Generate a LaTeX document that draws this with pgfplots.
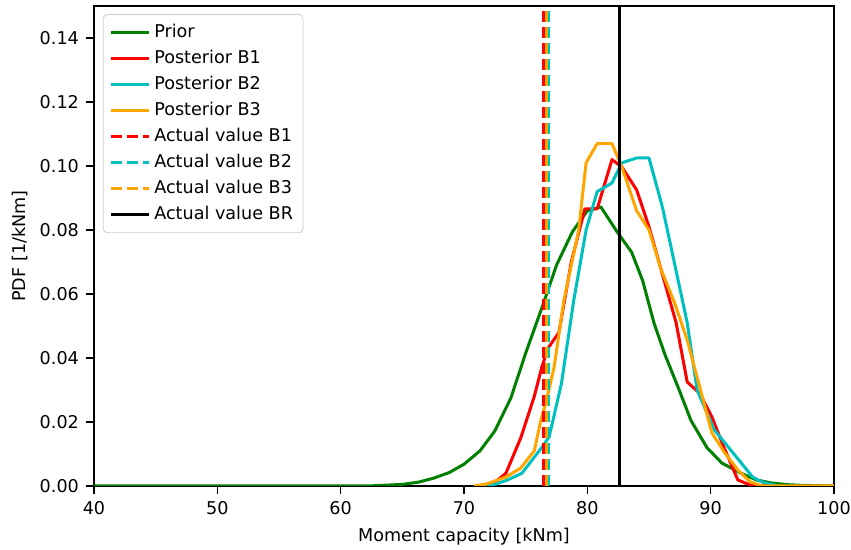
\documentclass[border=0pt]{standalone}
\usepackage{pgfplots}
\pgfplotsset{compat=1.18}
\usepackage{fontspec}
\setmainfont{DejaVu Sans}
\definecolor{mgreen}{rgb}{0,0.5,0}
\definecolor{mred}{rgb}{1,0,0}
\definecolor{mcyan}{rgb}{0,0.75,0.75}
\definecolor{morange}{rgb}{1,0.647,0}
\begin{document}
\begin{tikzpicture}
\begin{axis}[
  scale only axis,
  width=370pt, height=240pt,
  xmin=40, xmax=100, ymin=0, ymax=0.15,
  xtick={40,50,...,100},
  ytick={0,0.02,...,0.14},
  yticklabel style={/pgf/number format/.cd, fixed, fixed zerofill, precision=2},
  /pgf/number format/assume math mode=true,
  tick label style={font=\fontsize{8.8}{10.5}\selectfont},
  label style={font=\fontsize{8.8}{10.5}\selectfont},
  tick align=outside, tick pos=left,
  major tick length=4pt,
  axis line style={line width=0.8pt},
  every tick/.style={black, line width=0.8pt},
  xlabel={Moment capacity [kNm]},
  ylabel={PDF [1/kNm]},
  xlabel style={yshift=0pt},
  ylabel style={yshift=-1pt},
  legend cell align=left,
  legend style={at={(0.012,0.983)}, anchor=north west, draw=black!20, rounded corners=2pt,
    font=\fontsize{8.8}{10.5}\selectfont, row sep=0.8pt, inner sep=3pt},
  legend image code/.code={\draw[#1] (0pt,0pt) -- (19pt,0pt);},
  every axis plot/.append style={line width=1.5pt, line join=round},
]
\addplot[mgreen] coordinates {
(40,0) (50,0) (60,0) (62.5,0.00005) (65,0.0005) (66.3,0.0012) (67.5,0.0024) (68.8,0.0042)
(70,0.0068) (71.3,0.0110) (72.5,0.0172) (73.8,0.0275) (75,0.0415) (76.3,0.0555)
(77.5,0.0690) (78.8,0.0795) (80,0.0860) (81.1,0.0872) (82.4,0.0795) (83.6,0.0730)
(84.5,0.0640) (85.4,0.0510) (86.3,0.0410) (87.5,0.0295) (88.4,0.0205) (89.7,0.0120)
(90.9,0.0072) (92.4,0.0041) (93.7,0.0019) (95,0.0009) (96.3,0.0004) (97.5,0.0002) (100,0)
};
\addlegendentry{Prior}
\addplot[mred] coordinates {
(71.5,0) (72.3,0.0005) (73.4,0.004) (74.6,0.0150) (75.7,0.0280) (76.3,0.0370) (76.8,0.0430)
(77.7,0.0480) (78.7,0.0700) (79.8,0.0866) (80.8,0.0866) (82.0,0.1020) (82.8,0.0997)
(84.0,0.0925) (85.0,0.0810) (86.1,0.0660) (87.2,0.0510) (88.1,0.0325) (89.1,0.0290)
(90.1,0.0216) (91.0,0.0128) (92.2,0.0019) (93.2,0.0003) (95,0)
};
\addlegendentry{Posterior B1}
\addplot[mcyan] coordinates {
(71.5,0) (72.6,0.0006) (73.6,0.0020) (74.7,0.0040) (75.5,0.0080) (76.3,0.0120) (76.9,0.0153)
(77.9,0.0320) (78.9,0.0580) (79.9,0.0800) (80.8,0.0920) (82.0,0.0947) (82.8,0.1010)
(84.0,0.1025) (85.0,0.1025) (86.1,0.0870) (88.1,0.0510) (88.9,0.0300) (90.3,0.0175)
(92.1,0.0090) (93.4,0.0028) (94.2,0.0012) (95.5,0)
};
\addlegendentry{Posterior B2}
\addplot[morange] coordinates {
(70.8,0) (71.8,0.0006) (73.4,0.0028) (74.6,0.0056) (75.7,0.0110) (76.2,0.0200) (76.7,0.0270)
(77.3,0.0370) (78.1,0.0580) (79.3,0.0800) (79.9,0.1010) (80.8,0.1070) (82.0,0.1070)
(82.8,0.0997) (84.0,0.0860) (85.0,0.0800) (86.0,0.0675) (87.1,0.0570) (88.1,0.0456)
(90.1,0.0166) (91.1,0.0106) (92.2,0.0050) (93.2,0.0013) (94.2,0) (100,0)
};
\addlegendentry{Posterior B3}
\addplot[mred, dash pattern=on 5.5pt off 2.5pt] coordinates {(76.45,0) (76.45,0.15)};
\addlegendentry{Actual value B1}
\addplot[mcyan, dash pattern=on 5.5pt off 2.5pt] coordinates {(76.85,0) (76.85,0.15)};
\addlegendentry{Actual value B2}
\addplot[morange, dash pattern=on 5.5pt off 2.5pt] coordinates {(76.68,0) (76.68,0.15)};
\addlegendentry{Actual value B3}
\addplot[black] coordinates {(82.6,0) (82.6,0.15)};
\addlegendentry{Actual value BR}
\end{axis}
\pgfresetboundingbox
\path[use as bounding box] ([shift={(-47pt,-32pt)}]current axis.south west) rectangle ([shift={(378.5pt,243pt)}]current axis.south west);
\end{tikzpicture}
\end{document}
